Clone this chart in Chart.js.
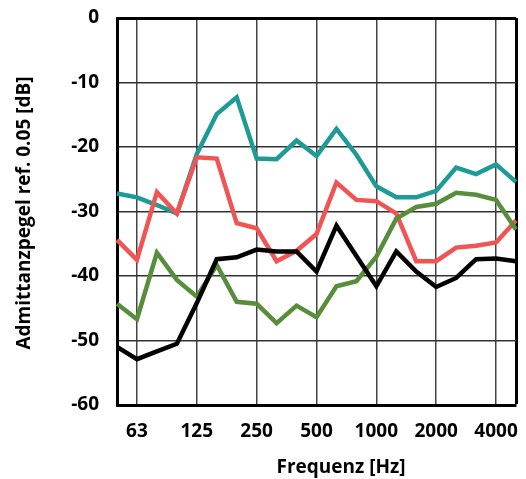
<!DOCTYPE html>
<html>
<head>
<meta charset="utf-8">
<script src="https://cdn.jsdelivr.net/npm/chart.js@4.4.1/dist/chart.umd.min.js"></script>
<style>
html, body { margin: 0; padding: 0; background: #fff; }
</style>
</head>
<body>
<canvas id="graph" width="526" height="479"></canvas>
<script>
"use strict";
// third-octave bands, 50 Hz .. 5000 Hz
const FREQS = ["50", "63", "80", "100", "125", "160", "200", "250", "315", "400", "500",
    "630", "800", "1000", "1250", "1600", "2000", "2500", "3150", "4000", "5000"];
const OCTAVE_LABELS = ["63", "125", "250", "500", "1000", "2000", "4000"];
const Y_TICKS = [0, -10, -20, -30, -40, -50, -60];

const TEAL_DB = [-27.2, -27.8, -29.0, -30.3, -21.1, -14.9, -12.3, -21.8, -21.9, -19.0, -21.4,
    -17.2, -21.2, -26.1, -27.8, -27.8, -26.8, -23.2, -24.2, -22.7, -25.4];
const RED_DB = [-34.4, -37.5, -27.0, -30.3, -21.6, -21.8, -31.8, -32.6, -37.7, -36.1, -33.5,
    -25.5, -28.2, -28.4, -30.3, -37.7, -37.7, -35.6, -35.3, -34.8, -31.4];
const GREEN_DB = [-44.3, -46.7, -36.4, -40.6, -43.2, -38.3, -44.0, -44.3, -47.3, -44.6, -46.4,
    -41.6, -40.8, -37.0, -31.1, -29.3, -28.8, -27.1, -27.4, -28.2, -32.8];
const BLACK_DB = [-51.0, -52.9, -51.7, -50.5, -44.2, -37.4, -37.1, -35.9, -36.2, -36.2, -39.3,
    -32.2, -36.9, -41.6, -36.2, -39.3, -41.7, -40.3, -37.4, -37.3, -37.7];

const FONT = { family: "'Open Sans', sans-serif", size: 19, weight: "bold" };

function line(data, color) {
    return {
        data: data,
        borderColor: color,
        borderWidth: 4.5,
        pointRadius: 0,
        tension: 0,
        fill: false,
    };
}

// axis titles drawn by hand so they sit where the original has them
const axisTitles = {
    id: "axisTitles",
    afterDraw(chart) {
        const ctx = chart.ctx;
        ctx.save();
        ctx.fillStyle = "#000";
        ctx.font = "bold 19px 'Open Sans', sans-serif";
        ctx.textAlign = "center";
        ctx.textBaseline = "middle";
        ctx.fillText("Frequenz [Hz]", 341, 468);
        ctx.translate(25, 213);
        ctx.rotate(-Math.PI / 2);
        ctx.fillText("Admittanzpegel ref. 0.05 [dB]", 0, 0);
        ctx.restore();
    },
};

function drawGraph() {
    const config = {
        type: "line",
        data: {
            labels: FREQS,
            datasets: [
                line(BLACK_DB, "#000000"),
                line(GREEN_DB, "#578d3b"),
                line(RED_DB, "#f05454"),
                line(TEAL_DB, "#1e9a97"),
            ],
        },
        options: {
            responsive: false,
            animation: false,
            layout: { padding: { top: 18, right: 10, left: 0, bottom: 0 } },
            plugins: { legend: { display: false }, tooltip: { enabled: false } },
            scales: {
                x: {
                    offset: false,
                    border: { display: true, color: "#000", width: 3 },
                    grid: {
                        drawTicks: false,
                        color: function (c) {
                            if (c.index === FREQS.length - 1) return "#000";
                            return OCTAVE_LABELS.includes(FREQS[c.index]) ? "#444" : "rgba(0,0,0,0)";
                        },
                        lineWidth: function (c) {
                            return c.index === FREQS.length - 1 ? 3 : 1.5;
                        },
                    },
                    ticks: {
                        autoSkip: false,
                        maxRotation: 0,
                        padding: 15,
                        color: "#000",
                        font: FONT,
                        callback: function (value, i) {
                            return OCTAVE_LABELS.includes(FREQS[i]) ? FREQS[i] : "";
                        },
                    },
                    afterFit: function (scale) {
                        scale.height = 74;
                        scale.paddingLeft = 0;
                        scale.paddingRight = 0;
                    },
                },
                y: {
                    min: Math.min(...Y_TICKS),
                    max: Math.max(...Y_TICKS),
                    border: { display: true, color: "#000", width: 3 },
                    grid: {
                        drawTicks: false,
                        color: function (c) { return c.tick && c.tick.value === 0 ? "#000" : "#333"; },
                        lineWidth: function (c) { return c.tick && c.tick.value === 0 ? 3 : 1.5; },
                    },
                    ticks: {
                        stepSize: 10,
                        padding: 18,
                        color: "#000",
                        font: FONT,
                    },
                    afterFit: function (scale) {
                        scale.width = 117;
                        scale.paddingTop = 0;
                        scale.paddingBottom = 0;
                    },
                },
            },
        },
        plugins: [axisTitles],
    };
    new Chart(document.getElementById("graph"), config);
}

drawGraph();
</script>
</body>
</html>
